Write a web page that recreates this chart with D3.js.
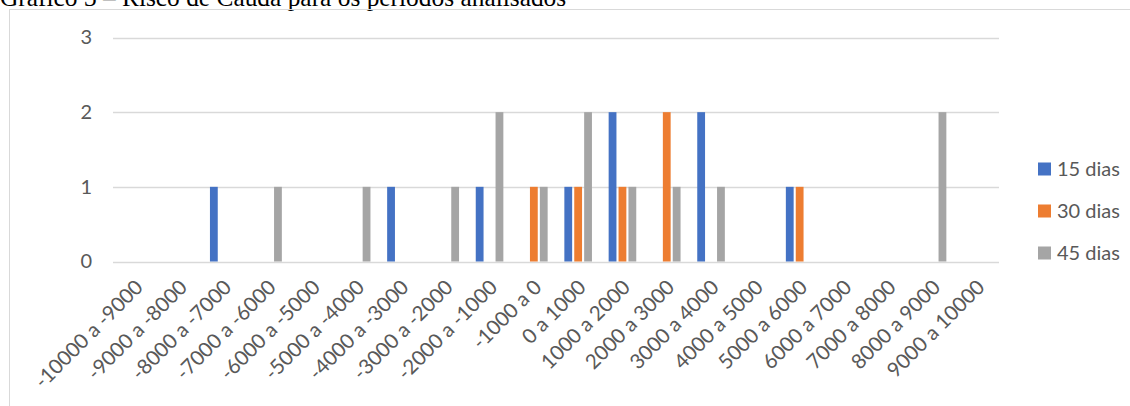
<!DOCTYPE html>
<html>
<head>
<meta charset="utf-8">
<script src="https://cdn.jsdelivr.net/npm/d3@7/dist/d3.min.js"></script>
<style>
  html, body { margin: 0; padding: 0; background: #fff; overflow: hidden; }
  svg { display: block; }
</style>
</head>
<body>
<svg id="chart" width="1130" height="406"></svg>
<script>
// Faixas de resultado (classes de 1000)
const categories = [
  "-10000 a -9000", "-9000 a -8000", "-8000 a -7000", "-7000 a -6000",
  "-6000 a -5000", "-5000 a -4000", "-4000 a -3000", "-3000 a -2000",
  "-2000 a -1000", "-1000 a 0", "0 a 1000", "1000 a 2000",
  "2000 a 3000", "3000 a 4000", "4000 a 5000", "5000 a 6000",
  "6000 a 7000", "7000 a 8000", "8000 a 9000", "9000 a 10000"
];

// Frequências por período
const dias15 = [0, 0, 1, 0, 0, 0, 1, 0, 1, 0, 1, 2, 0, 2, 0, 1, 0, 0, 0, 0];
const dias30 = [0, 0, 0, 0, 0, 0, 0, 0, 0, 1, 1, 1, 2, 0, 0, 1, 0, 0, 0, 0];
const dias45 = [0, 0, 0, 1, 0, 1, 0, 1, 2, 1, 2, 1, 1, 1, 0, 0, 0, 0, 2, 0];

const seriesNames = ["15 dias", "30 dias", "45 dias"];
const seriesColors = ["#4472C4", "#ED7D31", "#A5A5A5"];
const yTicks = [0, 1, 2, 3];

const titleText = "Gráfico 3 – Risco de Cauda para os períodos analisados";

const series = [dias15, dias30, dias45].map((vals, i) => ({
  name: seriesNames[i], color: seriesColors[i], values: vals
}));

const svg = d3.select("#chart");
const plot = { left: 113, right: 999, top: 37.5, bottom: 261.5 };
const font = "Lato, 'Open Sans', sans-serif";
const textColor = "#595959";

// Título e moldura do gráfico
svg.append("text")
  .attr("x", 0).attr("y", 6)
  .attr("font-family", "'Liberation Serif', 'Times New Roman', serif")
  .attr("font-size", 25.4)
  .attr("fill", "#000")
  .text(titleText);

svg.append("rect")
  .attr("x", 9.5).attr("y", 9.5)
  .attr("width", 1200).attr("height", 500)
  .attr("fill", "none")
  .attr("stroke", "#D9D9D9")
  .attr("stroke-width", 1);

// Escalas
const x0 = d3.scaleBand()
  .domain(categories)
  .range([plot.left, plot.right])
  .paddingInner(0).paddingOuter(0);

const y = d3.scaleLinear()
  .domain([0, 3])
  .range([plot.bottom, plot.top]);

// Largura das barras e espaçamento entre séries do grupo
const barW = 7.8;
const barStep = 9.9;
const clusterW = barStep * (series.length - 1) + barW;

// Linhas de grade
svg.append("g")
  .selectAll("line")
  .data(yTicks)
  .join("line")
  .attr("x1", plot.left).attr("x2", plot.right)
  .attr("y1", d => Math.round(y(d)) + 0.5)
  .attr("y2", d => Math.round(y(d)) + 0.5)
  .attr("stroke", "#D9D9D9")
  .attr("stroke-width", 1.3);

// Eixo Y
const yAxis = d3.axisLeft(y).tickValues(yTicks).tickSize(0).tickPadding(21).tickFormat(d3.format("d"));
const gy = svg.append("g").attr("transform", `translate(${plot.left},0)`).call(yAxis);
gy.select(".domain").remove();
gy.selectAll("text")
  .attr("font-family", font).attr("font-size", 20)
  .attr("fill", textColor);

// Barras
const groups = svg.append("g")
  .selectAll("g")
  .data(series)
  .join("g")
  .attr("fill", d => d.color);

groups.each(function (s, si) {
  d3.select(this)
    .selectAll("rect")
    .data(s.values.map((v, i) => ({ cat: categories[i], v })).filter(d => d.v > 0))
    .join("rect")
    .attr("x", d => x0(d.cat) + x0.bandwidth() / 2 - clusterW / 2 + si * barStep)
    .attr("width", barW)
    .attr("y", d => y(d.v))
    .attr("height", d => y(0) - y(d.v));
});

// Eixo X com rótulos inclinados
const xAxis = d3.axisBottom(x0).tickSize(0).tickPadding(0);
const gx = svg.append("g").attr("transform", `translate(0,${plot.bottom})`).call(xAxis);
gx.select(".domain").remove();
gx.selectAll(".tick text")
  .attr("font-family", font).attr("font-size", 20.5)
  .attr("fill", textColor)
  .attr("text-anchor", "end")
  .attr("dy", null)
  .attr("y", 0)
  .attr("transform", "translate(9,27) rotate(-45)");

// Legenda
const legend = svg.append("g")
  .selectAll("g")
  .data(series)
  .join("g")
  .attr("transform", (d, i) => `translate(1038,${169 + i * 42})`);

legend.append("rect")
  .attr("x", 0).attr("y", -6.5)
  .attr("width", 13).attr("height", 13)
  .attr("fill", d => d.color);

legend.append("text")
  .attr("x", 19).attr("y", 0)
  .attr("dy", "0.35em")
  .attr("font-family", font).attr("font-size", 20)
  .attr("fill", textColor)
  .text(d => d.name);
</script>
</body>
</html>
